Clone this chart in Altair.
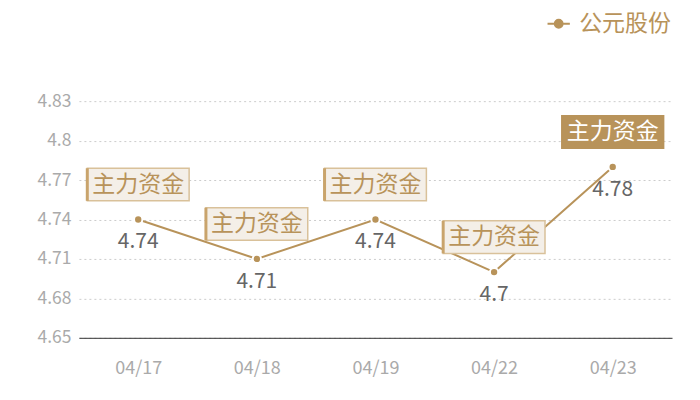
import altair as alt
import pandas as pd

dates = ["04/17", "04/18", "04/19", "04/22", "04/23"]
values = [4.74, 4.71, 4.74, 4.70, 4.78]
tags = ["主力资金", "主力资金", "主力资金", "主力资金", "主力资金"]
highlight = [False, False, False, False, True]
series = "公元股份"
y_ticks = [4.65, 4.68, 4.71, 4.74, 4.77, 4.8, 4.83]

TAN = "#b8935a"
FONT = "Noto Sans CJK SC"

df = pd.DataFrame({"date": dates, "value": values, "tag": tags,
                   "hl": highlight, "series": [series] * len(dates),
                   "label": [f"{v:g}" for v in values]})

x = alt.X("date:N", sort=dates, scale=alt.Scale(type="point", padding=0.5),
          axis=alt.Axis(title=None, labelAngle=0, labelColor="#aaaaaa", labelFontSize=18,
                        labelFont=FONT, labelPadding=22, ticks=False, domain=True,
                        domainColor="#333333", domainWidth=1, grid=False))
y = alt.Y("value:Q", scale=alt.Scale(domain=[4.65, 4.83], nice=False, zero=False),
          axis=alt.Axis(title=None, values=y_ticks, format="~g", labelColor="#aaaaaa",
                        labelFontSize=17.5, labelFont=FONT, labelPadding=8, ticks=False,
                        domain=False, labelOverlap=False, labelFlush=False,
                        grid=True, gridColor="#cccccc", gridDash=[2, 3]))

base = alt.Chart(df).encode(x=x, y=y)

legend_path = "M-1,0 L-0.35,0 M0.35,0 L1,0 M0.35,0 A0.35,0.35 0 1,1 -0.35,0 A0.35,0.35 0 1,1 0.35,0 Z"

line = base.mark_line(strokeWidth=2).encode(
    color=alt.Color("series:N", scale=alt.Scale(domain=[series], range=[TAN]),
                    legend=alt.Legend(title=None, orient="none", legendX=468, legendY=-90,
                                      symbolType=legend_path, symbolSize=500, symbolStrokeWidth=2,
                                      symbolFillColor=TAN, labelColor=TAN, labelFontSize=23,
                                      labelFont=FONT, labelOffset=8, labelLimit=200))
)

points = base.mark_point(filled=True, size=70, color=TAN, stroke="white",
                         strokeWidth=2, opacity=1, strokeOpacity=1)

box_path = "M-1,-0.32 L1,-0.32 L1,0.32 L-1,0.32 Z"
boxes = base.mark_point(shape=box_path, size=10400, filled=True, yOffset=-35,
                        strokeWidth=1.5, opacity=1).encode(
    fill=alt.condition("datum.hl", alt.value(TAN), alt.value("#f4efe8")),
    stroke=alt.condition("datum.hl", alt.value(TAN), alt.value("#d9c19a")),
)

accent = base.mark_point(shape="M-1,-0.32 L-1,0.32", size=10400, filled=False, yOffset=-35,
                         strokeWidth=3, color="#c9a46c", opacity=1).transform_filter("!datum.hl")

box_text = base.mark_text(yOffset=-35, fontSize=23, font=FONT, baseline="middle").encode(
    text="tag:N",
    color=alt.condition("datum.hl", alt.value("white"), alt.value(TAN)),
)

val_text = base.mark_text(yOffset=23, fontSize=21, font=FONT, color="#666666",
                          baseline="middle").encode(text="label:N")

chart = alt.layer(line, points, boxes, accent, box_text, val_text).properties(
    width=594, height=237,
    background="white",
    autosize=alt.AutoSizeParams(type="none"),
    padding={"left": 71, "top": 93, "right": 20, "bottom": 55},
).configure_view(strokeWidth=0, stroke="transparent")

chart.save("out.html", embed_options={"renderer": "svg", "actions": False})
